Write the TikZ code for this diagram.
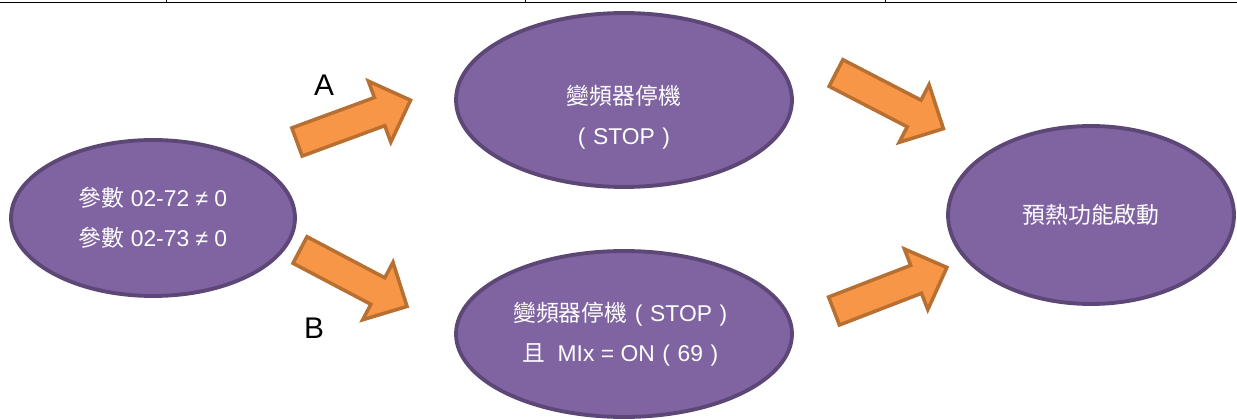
\documentclass[tikz,border=0pt]{standalone}
\usepackage{fontspec}
\setmainfont{Liberation Sans}
\newfontfamily\cjk{Noto Sans CJK TC}
\definecolor{stpurple}{RGB}{128,100,162}
\definecolor{stpurpledk}{RGB}{92,71,118}
\definecolor{arorange}{RGB}{247,150,70}
\definecolor{arorangedk}{RGB}{184,111,50}
\usetikzlibrary{shapes.geometric}
% full-width parentheses, centred in their box
\newcommand{\fwl}{\makebox[1em][c]{(}}
\newcommand{\fwr}{\makebox[1em][c]{)}}

\begin{document}
\begin{tikzpicture}[x=0.02cm,y=0.02cm,
  state/.style={ellipse,draw=stpurpledk,line width=2.2pt,fill=stpurple,text=white,inner sep=0pt,
    align=center,font=\fontsize{13}{23}\selectfont},
  stext/.style={text=white,align=center,font=\fontsize{13}{23}\selectfont},
  lbl/.style={font=\fontsize{17}{20}\selectfont},
  blockarrow/.pic={
    \draw[arorangedk,fill=arorange,line width=2pt,line join=miter]
      (0,-15) -- (88,-15) -- (88,-32.5) -- (121,0) -- (88,32.5) -- (88,15) -- (0,15) -- cycle;}]
  \useasboundingbox (0,0) rectangle (1237,419);
  % Table rule on top
  \draw[line width=1.1pt] (0,416.5) -- (1237,416.5);
  \foreach \x in {166,525,885}
    \draw[line width=0.5pt] (\x,419) -- (\x,416.5);
  % States
  \node[state,minimum width=5.68cm,minimum height=3.12cm] (cond) at (153,201)
    {{\cjk 參數} 02-72 ≠ 0\\{\cjk 參數} 02-73 ≠ 0};
  \node[state,minimum width=6.72cm,minimum height=3.48cm] (stopa) at (624,319) {};
  \node[stext] (stopatext) at ([yshift=-0.34cm]stopa.center)
    {{\cjk 變頻器停機}\\\fwl STOP\fwr};
  \node[state,minimum width=6.72cm,minimum height=3.32cm] (stopb) at (624,85)
    {{\cjk 變頻器停機}\fwl STOP\fwr\\{\cjk 且}\ \ MIx = ON\fwl 69\fwr};
  \node[state,minimum width=5.72cm,minimum height=3.56cm] (heat) at (1091,204)
    {{\cjk 預熱功能啟動}};
  % Block arrows: tail x/y/angle
  \foreach \x/\y/\a in {297/277/20.2,300/169/-27.8,836/346/-27.4,834/108/21.1}
    \pic[rotate=\a] at (\x,\y) {blockarrow};
  % Path labels
  \node[lbl] (la) at (324,334) {A};
  \node[lbl] (lb) at (314,91) {B};
\end{tikzpicture}
\end{document}
